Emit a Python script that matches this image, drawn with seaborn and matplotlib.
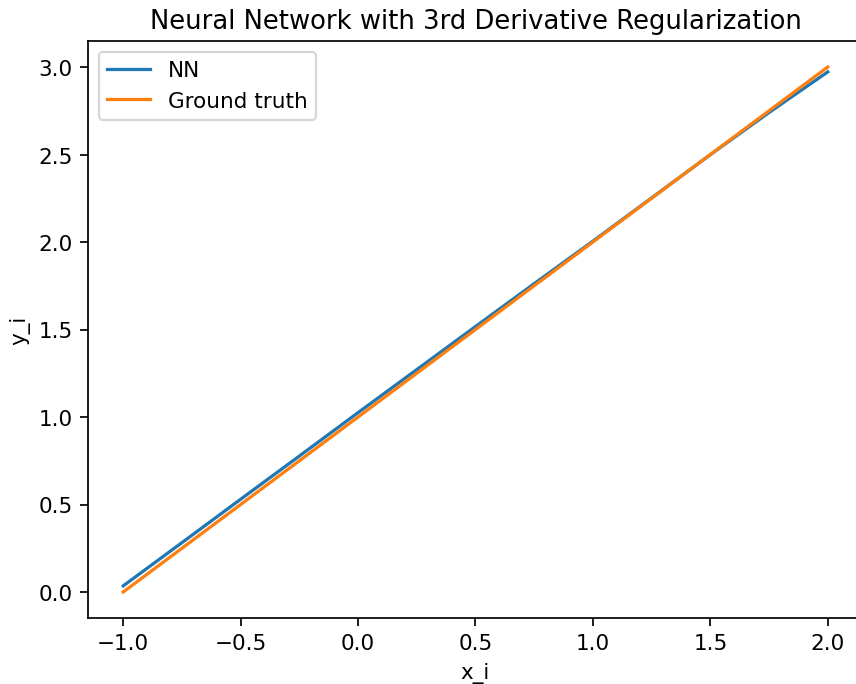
import matplotlib
matplotlib.use("Agg")
import matplotlib.pyplot as plt
import seaborn as sns
import pandas as pd

# Sample points along the input range
x_vals = [-1.0, -0.75, -0.5, -0.25, 0.0, 0.25, 0.5, 0.75, 1.0, 1.25, 1.5, 1.75, 2.0]
# Network prediction
nn_vals = [0.035, 0.282, 0.530, 0.777, 1.025, 1.271, 1.517, 1.762, 2.005, 2.252, 2.499, 2.740, 2.972]
# Target function values
truth_vals = [0.0, 0.25, 0.5, 0.75, 1.0, 1.25, 1.5, 1.75, 2.0, 2.25, 2.5, 2.75, 3.0]

df = pd.DataFrame({"x": x_vals, "nn": nn_vals, "truth": truth_vals})

dpi = 155
fig = plt.figure(figsize=(856 / dpi, 685 / dpi), dpi=dpi)
ax = fig.add_axes([88 / 856, (685 - 619.25) / 685, 775 / 856, 577.5 / 685])

sns.lineplot(data=df, x="x", y="nn", ax=ax, color="#1f77b4", label="NN")
sns.lineplot(data=df, x="x", y="truth", ax=ax, color="#ff7f0e", label="Ground truth")

ax.set_title("Neural Network with 3rd Derivative Regularization", fontsize=12)
ax.set_xlabel("x_i")
ax.set_ylabel("y_i")
ax.set_xticks([-1.0, -0.5, 0.0, 0.5, 1.0, 1.5, 2.0])
ax.set_yticks([0.0, 0.5, 1.0, 1.5, 2.0, 2.5, 3.0])
ax.legend(loc="upper left")

fig.savefig("out.png", dpi=dpi)
